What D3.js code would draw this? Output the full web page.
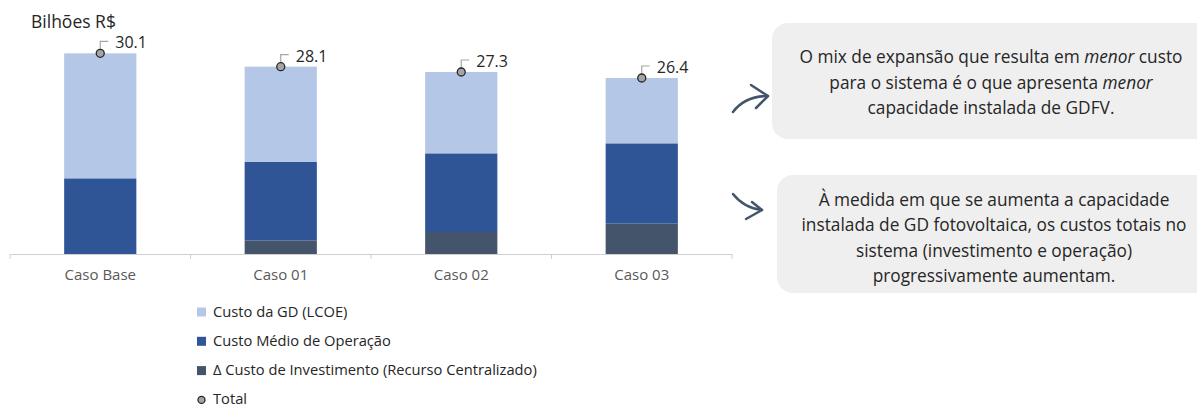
<!DOCTYPE html>
<html>
<head>
<meta charset="utf-8">
<script src="https://cdn.jsdelivr.net/npm/d3@7"></script>
<style>
  body { margin: 0; background: #fff; }
  svg { font-family: "Open Sans", sans-serif; }
</style>
</head>
<body>
<svg id="chart" width="1197" height="408"></svg>
<script>
const cases = ['Caso Base', 'Caso 01', 'Caso 02', 'Caso 03'];
const invest = [0, 2.05, 3.3, 4.55];
const oper = [11.35, 11.75, 11.8, 12.05];
const lcoe = [18.75, 14.3, 12.2, 9.8];
const totals = [30.1, 28.1, 27.3, 26.4];

const seriesNames = [
  'Custo da GD (LCOE)',
  'Custo Médio de Operação',
  'Δ Custo de Investimento (Recurso Centralizado)',
  'Total'
];
const colors = { invest: '#44546A', oper: '#2F5597', lcoe: '#B4C7E7' };

const notes = [
  [['O mix de expansão que resulta em '], ['menor', true], [' custo']],
  [['para o sistema é o que apresenta '], ['menor', true]],
  [['capacidade instalada de GDFV.']]
];
const notes2 = [
  'À medida em que se aumenta a capacidade',
  'instalada de GD fotovoltaica, os custos totais no',
  'sistema (investimento e operação)',
  'progressivamente aumentam.'
];

const svg = d3.select('#chart');
const BASE = 254;

const rows = cases.map((c, i) => ({ name: c, invest: invest[i], oper: oper[i], lcoe: lcoe[i], total: totals[i] }));

const x = d3.scaleBand()
  .domain(cases)
  .range([10, 732])
  .paddingInner(0.6)
  .paddingOuter(0.3);

const y = d3.scaleLinear()
  .domain([0, 30])
  .range([BASE, 54]);

const stack = d3.stack().keys(['invest', 'oper', 'lcoe']);

svg.append('g')
  .selectAll('g')
  .data(stack(rows))
  .join('g')
  .attr('fill', d => colors[d.key])
  .selectAll('rect')
  .data(d => d)
  .join('rect')
  .attr('x', d => x(d.data.name))
  .attr('width', x.bandwidth())
  .attr('y', d => y(d[1]))
  .attr('height', d => y(d[0]) - y(d[1]));

// axis
const axis = svg.append('g')
  .attr('transform', `translate(0,${BASE})`)
  .call(d3.axisBottom(x).tickSize(0).tickPadding(15));
axis.select('.domain').attr('stroke', '#D0D0D0');
axis.selectAll('text')
  .attr('fill', '#595959')
  .style('font-size', '15px')
  .style('font-family', '"Open Sans", sans-serif');

const bounds = d3.range(cases.length + 1).map(i => 10 + i * x.step());
axis.selectAll('.bound')
  .data(bounds)
  .join('line')
  .attr('x1', d => d).attr('x2', d => d)
  .attr('y1', 0).attr('y2', 5)
  .attr('stroke', '#D0D0D0');

// totals
const tot = svg.append('g');
tot.selectAll('path')
  .data(rows)
  .join('path')
  .attr('d', d => {
    const cx = x(d.name) + x.bandwidth() / 2, cy = y(d.total);
    return `M${cx},${cy - 4}V${cy - 12}H${cx + 8}`;
  })
  .attr('fill', 'none')
  .attr('stroke', '#A6A6A6')
  .attr('stroke-width', 1.2);
tot.selectAll('circle')
  .data(rows)
  .join('circle')
  .attr('cx', d => x(d.name) + x.bandwidth() / 2)
  .attr('cy', d => y(d.total))
  .attr('r', 4)
  .attr('fill', '#A5A5A5')
  .attr('stroke', '#262626')
  .attr('stroke-width', 1.3);
tot.selectAll('text')
  .data(rows)
  .join('text')
  .attr('x', d => x(d.name) + x.bandwidth() / 2 + 15)
  .attr('y', d => y(d.total) - 5)
  .attr('fill', '#262626')
  .style('font-size', '16px')
  .text(d => d.total.toFixed(1));

svg.append('text')
  .attr('x', 31).attr('y', 28)
  .attr('fill', '#262626')
  .style('font-size', '17.5px')
  .text('Bilhões R$');

// legend
const legend = svg.append('g');
const legendColors = [colors.lcoe, colors.oper, colors.invest, null];
const lg = legend.selectAll('g')
  .data(seriesNames)
  .join('g')
  .attr('transform', (d, i) => `translate(197,${312 + i * 29.3})`);
lg.filter((d, i) => i < 3)
  .append('rect')
  .attr('x', 0).attr('y', -4.5)
  .attr('width', 9).attr('height', 9)
  .attr('fill', (d, i) => legendColors[i]);
lg.filter((d, i) => i === 3)
  .append('circle')
  .attr('cx', 4.5).attr('cy', 0).attr('r', 3.5)
  .attr('fill', '#A5A5A5')
  .attr('stroke', '#262626')
  .attr('stroke-width', 1.3);
lg.append('text')
  .attr('x', 16).attr('y', 4.5)
  .attr('fill', '#262626')
  .style('font-size', '14.7px')
  .text(d => d);

// callout boxes
const boxes = svg.append('g');
boxes.append('rect')
  .attr('x', 772).attr('y', 23).attr('width', 440).attr('height', 116)
  .attr('rx', 16).attr('fill', '#EFEFEF');
boxes.append('rect')
  .attr('x', 777).attr('y', 175).attr('width', 440).attr('height', 118)
  .attr('rx', 16).attr('fill', '#EFEFEF');

const t1 = boxes.append('text')
  .attr('text-anchor', 'middle')
  .attr('fill', '#262626')
  .style('font-size', '17.3px');
notes.forEach((line, i) => {
  const ln = t1.append('tspan').attr('x', 991).attr('y', 63 + i * 25.5);
  line.forEach(part => {
    ln.append('tspan')
      .style('font-style', part[1] ? 'italic' : 'normal')
      .text(part[0]);
  });
});

boxes.append('text')
  .attr('text-anchor', 'middle')
  .attr('fill', '#262626')
  .style('font-size', '17.3px')
  .selectAll('tspan')
  .data(notes2)
  .join('tspan')
  .attr('x', 994)
  .attr('y', (d, i) => 206 + i * 25.3)
  .text(d => d);

// arrows
const arrows = svg.append('g')
  .attr('fill', 'none')
  .attr('stroke', '#44546A')
  .attr('stroke-width', 2.5)
  .attr('stroke-linecap', 'round')
  .attr('stroke-linejoin', 'round');
arrows.append('path').attr('d', 'M733,112 Q745,96 768,96');
arrows.append('path').attr('d', 'M751,85 L768,96 L756,108');
arrows.append('path').attr('d', 'M733,194 Q744,208 762,210');
arrows.append('path').attr('d', 'M752,202 L762,210 L746,219');
</script>
</body>
</html>
